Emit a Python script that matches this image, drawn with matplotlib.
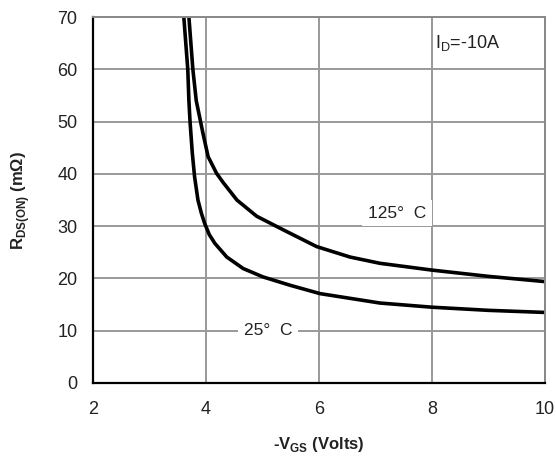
import matplotlib.pyplot as plt

plt.rcParams['font.family'] = ['Liberation Sans', 'DejaVu Sans']

# Data: -VGS (V) vs RDS(ON) (mOhm)
vgs_25 = [3.61, 3.68, 3.70, 3.72, 3.76, 3.80, 3.86, 3.92, 3.98, 4.06, 4.16,
          4.37, 4.66, 5.01, 5.49, 6.02, 6.55, 7.08, 8.00, 9.00, 10.0]
rds_25 = [70, 60, 54, 50, 44, 39.5, 35, 32.5, 30.5, 28.4, 26.7,
          24.1, 21.9, 20.3, 18.7, 17.1, 16.2, 15.3, 14.5, 13.9, 13.5]

vgs_125 = [3.70, 3.77, 3.83, 3.95, 4.04, 4.19, 4.31, 4.55, 4.90, 5.37,
           5.96, 6.55, 7.08, 8.00, 9.00, 10.0]
rds_125 = [70, 60, 54, 47.7, 43.3, 40.1, 38.3, 35, 31.9, 29.3,
           26.1, 24.1, 22.9, 21.6, 20.4, 19.4]

x_ticks = [2, 4, 6, 8, 10]
y_ticks = [0, 10, 20, 30, 40, 50, 60, 70]

fig = plt.figure(figsize=(5.56, 4.62), dpi=100)
ax = fig.add_axes([0.167, 0.171, 0.813, 0.792])

ax.plot(vgs_25, rds_25, color='black', lw=2.6, solid_joinstyle='round')
ax.plot(vgs_125, rds_125, color='black', lw=2.6, solid_joinstyle='round')

ax.set_xlim(2, 10)
ax.set_ylim(0, 70)
ax.set_xticks(x_ticks)
ax.set_yticks(y_ticks)
ax.grid(True, color='#999999', lw=1.4)
ax.set_axisbelow(True)
ax.tick_params(length=0, labelsize=13, labelcolor='#222222')
ax.tick_params(axis='x', pad=13)
ax.tick_params(axis='y', pad=11)

for side in ['top', 'right']:
    ax.spines[side].set_color('#888888')
    ax.spines[side].set_linewidth(1.4)
for side in ['left', 'bottom']:
    ax.spines[side].set_color('black')
    ax.spines[side].set_linewidth(1.6)

box = dict(facecolor='white', edgecolor='none', pad=4)
ax.text(7.38, 32.5, '125°  C', fontsize=12.5, color='#222222',
        ha='center', va='center', bbox=box)
ax.text(5.10, 10.1, '25°  C', fontsize=12.5, color='#222222',
        ha='center', va='center', bbox=box)
ax.text(8.05, 65, r'I$_\mathregular{D}$=-10A', fontsize=13, color='#222222',
        ha='left', va='center')

ax.set_xlabel(r'-V$_\mathregular{GS}$ (Volts)', fontsize=12, fontweight='bold',
              color='#222222', labelpad=12)
ax.set_ylabel(r'R$_\mathregular{DS(ON)}$ (m$\mathregular{\Omega}$)', fontsize=12,
              fontweight='bold', color='#222222', labelpad=18)

fig.savefig('out.png', dpi=100)
